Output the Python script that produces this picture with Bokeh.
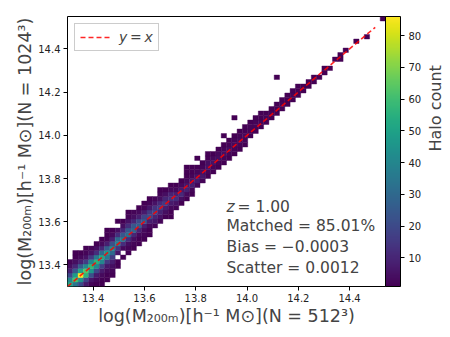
import math
from bokeh.plotting import figure
from bokeh.models import (ColumnDataSource, LinearColorMapper, ColorBar, FixedTicker,
                          LinearAxis, Label, Range1d, Legend, LegendItem, PrintfTickFormatter)
from bokeh.palettes import Viridis256
from bokeh.embed import file_html
from bokeh.resources import INLINE

# ---- histogram geometry (bin edges of the 2-D histogram) ----
X_MIN, X_MAX = 13.30, 14.54
Y_MIN, Y_MAX = 13.30, 14.55
N_BINS = 60

# ---- data: for each x-bin (column), lowest y-bin and counts upward ----
col_lo = [0, 0, 0, 0, 0, 0, 0, 1, 2, 4,
          6, 7, 8, 9, 10, 11, 13, 14, 15, 15,
          17, 18, 19, 20, 22, 23, 24, 25, 26, 27,
          28, 29, 30, 31, 33, 34, 35, 36, 37, 38,
          39, 40, 41, 42, 43, 44, 45, 46, 47, 48,
          50, 50, 52, 53, 54, 55, 55, 57, 58, 59]
col_counts = [
    [52, 40, 20, 9, 4, 2],
    [34, 62, 48, 24, 10, 4, 1, 1],
    [20, 45, 86, 50, 26, 9, 3, 1],
    [7, 18, 56, 64, 42, 16, 5, 2, 1],
    [2, 6, 22, 46, 58, 40, 15, 5, 2],
    [1, 3, 7, 19, 42, 56, 36, 12, 4, 1],
    [1, 1, 3, 7, 17, 40, 52, 30, 10, 3, 1],
    [1, 1, 3, 6, 15, 35, 46, 26, 8, 2, 1, 1],
    [1, 2, 4, 8, 16, 30, 42, 22, 8, 3, 1],
    [1, 1, 0, 6, 14, 38, 30, 12, 4],
    [1, 0, 3, 12, 35, 24, 10, 4, 1],
    [1, 2, 4, 12, 32, 24, 12, 5, 2, 1],
    [1, 2, 4, 10, 29, 24, 10, 4, 2],
    [1, 1, 3, 9, 26, 20, 8, 3, 1],
    [1, 2, 3, 8, 24, 18, 7, 2, 1],
    [1, 1, 3, 8, 21, 15, 6, 2, 1],
    [2, 6, 10, 19, 13, 5, 2],
    [2, 5, 9, 17, 11, 4, 2, 1],
    [1, 4, 8, 15, 10, 4, 1],
    [1, 1, 3, 7, 13, 9, 3, 1],
    [2, 5, 12, 8, 3, 1],
    [1, 4, 11, 7, 3, 1],
    [1, 3, 9, 6, 3, 1, 1, 1],
    [1, 2, 8, 6, 2, 1, 1],
    [2, 7, 5, 2, 1],
    [2, 6, 4, 2, 1],
    [1, 2, 5, 4, 1, 1],
    [1, 2, 5, 3, 1],
    [1, 2, 4, 3, 1],
    [1, 2, 4, 2, 1],
    [1, 2, 4, 2, 1],
    [1, 2, 3, 2, 1],
    [1, 2, 3, 2, 1],
    [1, 2, 3, 1, 1],
    [1, 2, 2, 1],
    [1, 2, 2, 1],
    [1, 2, 1, 1],
    [1, 2, 1],
    [1, 2, 1],
    [1, 1, 1],
    [1, 2, 1],
    [1, 1, 1],
    [1, 2, 1],
    [1, 1, 1],
    [1, 1],
    [1, 1],
    [1, 1],
    [1],
    [1, 1],
    [1],
    [1],
    [1, 1],
    [1],
    [],
    [1],
    [],
    [1],
    [],
    [],
    [1],
]
# isolated cells away from the band
outlier_col = [9, 24, 29, 31, 39]
outlier_row = [14, 28, 33, 37, 46]
outlier_count = [1, 1, 1, 1, 1]

x_ticks = [13.4, 13.6, 13.8, 14.0, 14.2, 14.4]
y_ticks = [13.4, 13.6, 13.8, 14.0, 14.2, 14.4]
cbar_ticks = [10, 20, 30, 40, 50, 60, 70, 80]
COUNT_MIN, COUNT_MAX = 1, 86
line_ends = [13.30, 14.50]

stats_lines = ["Matched = 85.01%", "Bias = \u22120.0003", "Scatter = 0.0012"]

# ---- build cell table ----
dx = (X_MAX - X_MIN) / N_BINS
dy = (Y_MAX - Y_MIN) / N_BINS
cx, cy, cn = [], [], []
for i, (lo, cnts) in enumerate(zip(col_lo, col_counts)):
    for k, n in enumerate(cnts):
        if n > 0:
            cx.append(i); cy.append(lo + k); cn.append(n)
for i, j, n in zip(outlier_col, outlier_row, outlier_count):
    cx.append(i); cy.append(j); cn.append(n)

src = ColumnDataSource(dict(
    left=[X_MIN + i * dx for i in cx], right=[X_MIN + (i + 1) * dx for i in cx],
    bottom=[Y_MIN + j * dy for j in cy], top=[Y_MIN + (j + 1) * dy for j in cy],
    count=cn))

FONT = "DejaVu Sans"
p = figure(frame_width=318, frame_height=270, output_backend="svg", toolbar_location=None,
           x_range=Range1d(X_MIN, X_MAX), y_range=Range1d(Y_MIN, Y_MAX))
p.min_border_left = 67
p.min_border_right = 2
p.min_border_top = 16
p.min_border_bottom = 51
p.grid.visible = False
p.outline_line_color = "black"
p.outline_line_width = 1
p.background_fill_color = "white"
p.border_fill_color = "white"

mapper = LinearColorMapper(palette=Viridis256, low=COUNT_MIN, high=COUNT_MAX)
p.quad(left="left", right="right", bottom="bottom", top="top", source=src,
       fill_color={"field": "count", "transform": mapper},
       line_color={"field": "count", "transform": mapper}, line_width=0.4)

ln = p.line(line_ends, line_ends, line_color="red", line_alpha=0.85, line_width=1.6,
            line_dash="5 3")

legend = Legend(items=[LegendItem(label="y\u2009=\u2009x", renderers=[ln])], location="top_left")
legend.label_text_font = FONT
legend.label_text_font_style = "italic"
legend.label_text_font_size = "14px"
legend.border_line_color = "#cccccc"
legend.border_line_alpha = 1
legend.background_fill_alpha = 0.8
legend.glyph_width = 30
legend.glyph_height = 14
legend.padding = 5
legend.margin = 7
legend.label_standoff = 9
p.add_layout(legend)

for ax, ticks in ((p.xaxis, x_ticks), (p.yaxis, y_ticks)):
    ax.ticker = FixedTicker(ticks=ticks)
    ax.formatter = PrintfTickFormatter(format="%.1f")
    ax.minor_tick_line_color = None
    ax.major_tick_in = 0
    ax.major_tick_out = 4
    ax.major_label_text_font = FONT
    ax.major_label_text_font_size = "10px"
    ax.major_label_text_color = "#222222"
    ax.axis_label_text_font = FONT
    ax.axis_label_text_font_size = "17.5px"
    ax.axis_label_text_font_style = "normal"
    ax.axis_line_color = None
    ax.major_label_standoff = 3
p.xaxis.axis_label_standoff = 1
p.yaxis.axis_label_standoff = 0

p.xaxis.axis_label = "log(M\u2082\u2080\u2080\u2098)[h\u207b\u00b9 M\u2299](N = 512\u00b3)"
p.yaxis.axis_label = "log(M\u2082\u2080\u2080\u2098)[h\u207b\u00b9 M\u2299](N = 1024\u00b3)"

cbar = ColorBar(color_mapper=mapper, ticker=FixedTicker(ticks=cbar_ticks), width=15,
                padding=0, margin=5, location=(0, 0),
                major_label_text_font=FONT, major_label_text_font_size="10px",
                major_label_text_color="#222222",
                major_tick_out=4, major_tick_in=0, major_tick_line_color="black",
                bar_line_color="black", border_line_color=None,
                background_fill_alpha=0, label_standoff=4)
p.add_layout(cbar, "right")

lab_axis = LinearAxis(ticker=FixedTicker(ticks=[]), axis_label="Halo count",
                      axis_line_color=None, major_tick_line_color=None,
                      minor_tick_line_color=None, axis_label_text_font=FONT,
                      axis_label_text_font_size="16px", axis_label_text_font_style="normal",
                      axis_label_standoff=11, axis_label_orientation=math.pi / 2)
p.add_layout(lab_axis, "right")

tx = 13.92
p.add_layout(Label(x=tx, y=13.667, text="z", text_font=FONT, text_font_style="italic",
                   text_font_size="15.5px", text_baseline="middle"))
p.add_layout(Label(x=tx, y=13.667, x_offset=11, text="= 1.00", text_font=FONT,
                   text_font_size="15.5px", text_baseline="middle"))
for k, s in enumerate(stats_lines):
    p.add_layout(Label(x=tx, y=13.580 - k * 0.097, text=s, text_font=FONT,
                       text_font_size="15.5px", text_baseline="middle"))

open("out.html", "w").write(file_html(p, INLINE))
